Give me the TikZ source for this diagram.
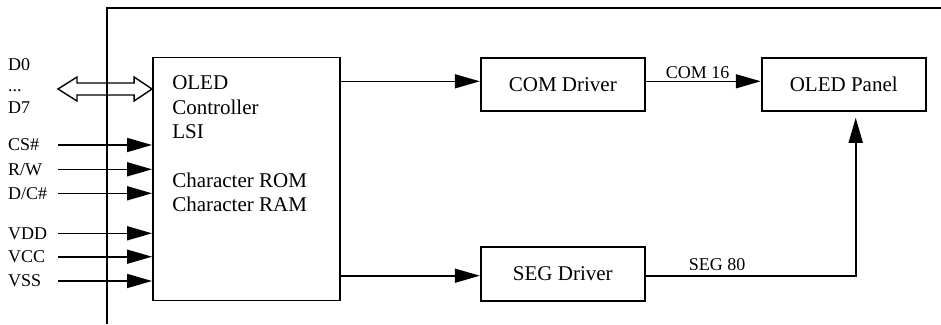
\documentclass[tikz,border=0pt]{standalone}
\usepackage{fontspec}
\setmainfont{Liberation Serif}
\usetikzlibrary{arrows.meta,positioning,calc}
\newcommand{\boxfont}{\fontsize{21}{24.4}\selectfont}
\newcommand{\pinfont}{\fontsize{18}{20}\selectfont}

\begin{document}
\begin{tikzpicture}
	[x=1pt, y=-1pt, inner sep=0pt,
	block/.style	= {draw, rectangle, line width=1.9pt, font=\boxfont},
	pin/.style		= {anchor=west, font=\pinfont},
	sig/.style		= {line width=1.6pt, -{Triangle[length=25pt, width=14pt]}},
	bus/.style		= {line width=1.4pt, line join=miter},
	frame/.style	= {line width=2pt}]

	\useasboundingbox (0,0) rectangle (941,324);

	% module outline, open to the right and bottom
	\draw [frame] (106.7,324) -- (106.7,8.3) -- (941,8.3);

	\node [block, minimum width=187pt, minimum height=243pt]	at (246.5,179)		(ctrl)	{};
	\node [font=\boxfont, align=left, anchor=north west]	at ($(ctrl.north west)+(20,19)$)	(ctrltext)
		{OLED\\Controller\\LSI\\[24.4pt]Character ROM\\Character RAM};

	\node [block, minimum width=164pt, minimum height=53pt]	at (562.8,84.3)		(com)	{COM Driver};
	\node [block, minimum width=164pt, minimum height=53pt]	[right = 115pt of com]	(panel)	{OLED Panel};
	\node [block, minimum width=164pt, minimum height=54pt]	[below = 134pt of com]	(seg)	{SEG Driver};

	% pins
	\node [pin]	at (8,65)		(d0)	{D0};
	\node [pin]	at (8,91)		(dots)	{...};
	\node [pin]	at (8,108)		(d7)	{D7};
	\node [pin]	at (8,145)		(cs)	{CS\#};
	\node [pin]	at (8,169.3)	(rw)	{R/W};
	\node [pin]	at (8,193.3)	(dc)	{D/C\#};
	\node [pin]	at (8,233.3)	(vdd)	{VDD};
	\node [pin]	at (8,256.7)	(vcc)	{VCC};
	\node [pin]	at (8,281)		(vss)	{VSS};

	% data bus
	\coordinate (busl) at ($(dots.west)+(50,-2)$);
	\coordinate (busr) at (ctrl.west |- busl);
	\draw [bus] (busl) -- ++(19,-12) -- ++(0,6) -- ($(busr)+(-18,-6)$) -- ++(0,-6) -- (busr)
		-- ++(-18,12) -- ++(0,-6) -- ($(busl)+(19,6)$) -- ++(0,6) -- cycle;

	\foreach \p in {cs,rw,dc,vdd,vcc,vss}
		\draw [sig] ([xshift=50pt]\p.west) -- (\p.west -| ctrl.west);

	% drivers and panel
	\coordinate (comin)		at ([yshift=3pt]com.west);
	\coordinate (comout)	at ([yshift=3pt]com.east);
	\coordinate (panelin)	at ([yshift=3pt]panel.west);
	\coordinate (segin)		at ([yshift=-2pt]seg.west);
	\coordinate (segout)	at ([yshift=-2pt]seg.east);
	\coordinate (paneltip)	at ($(panel.south)+(12,6)$);

	\draw [sig] (ctrl.east |- comin) -- (comin);
	\draw [sig] (ctrl.east |- segin) -- (segin);
	\draw [sig] (comout) -- node [above=2pt, pos=0.45, font=\pinfont] (com16) {COM 16} (panelin);
	\draw [sig] (segout) -- node [above=4pt, pos=0.34, font=\pinfont] (seg80) {SEG 80}
		(segout -| paneltip) -- (paneltip);
\end{tikzpicture}
\end{document}
